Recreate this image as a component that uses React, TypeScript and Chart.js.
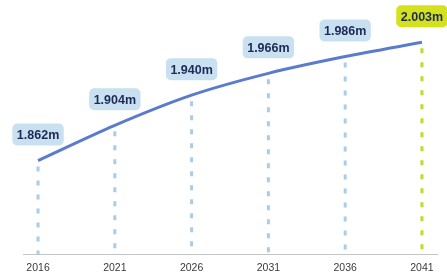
import React, { useEffect, useRef } from "react";
import { Chart, registerables } from "chart.js";

Chart.register(...registerables);

const years = [2016, 2021, 2026, 2031, 2036, 2041];
const values = [1.862, 1.904, 1.94, 1.966, 1.986, 2.003];
const labels = ["1.862m", "1.904m", "1.940m", "1.966m", "1.986m", "2.003m"];
const highlightIndex = 5;

const LINE_COLOR = "#5b7ccc";
const DROP_COLOR = "#a8cce9";
const DROP_HIGHLIGHT = "#c2d82a";
const BOX_COLOR = "#c9e0f1";
const BOX_HIGHLIGHT = "#d3e21c";
const TEXT_COLOR = "#1d2a57";

const dropAndLabels = {
  id: "dropAndLabels",
  beforeDatasetsDraw(chart: any) {
    const { ctx, scales } = chart;
    const x = scales.x;
    const y = scales.y;
    const base = y.getPixelForValue(y.min);
    ctx.save();
    ctx.lineWidth = 3;
    ctx.setLineDash([5, 9]);
    years.forEach((yr, i) => {
      const px = x.getPixelForValue(yr);
      const py = y.getPixelForValue(values[i]);
      ctx.strokeStyle = i === highlightIndex ? DROP_HIGHLIGHT : DROP_COLOR;
      ctx.beginPath();
      ctx.moveTo(px, py + 6);
      ctx.lineTo(px, base);
      ctx.stroke();
    });
    ctx.restore();
  },
  afterDatasetsDraw(chart: any) {
    const { ctx, scales } = chart;
    const x = scales.x;
    const y = scales.y;
    ctx.save();
    ctx.font = "bold 12.5px Arial, 'Liberation Sans', sans-serif";
    ctx.textAlign = "center";
    ctx.textBaseline = "middle";
    years.forEach((yr, i) => {
      const px = x.getPixelForValue(yr);
      const py = y.getPixelForValue(values[i]) - 26;
      const w = ctx.measureText(labels[i]).width + 9;
      const h = 22;
      ctx.fillStyle = i === highlightIndex ? BOX_HIGHLIGHT : BOX_COLOR;
      ctx.beginPath();
      (ctx as any).roundRect(px - w / 2, py - h / 2, w, h, 5);
      ctx.fill();
      ctx.fillStyle = TEXT_COLOR;
      ctx.fillText(labels[i], px, py + 1);
    });
    ctx.restore();
  },
};

export default function App() {
  const ref = useRef<HTMLCanvasElement>(null);
  useEffect(() => {
    if (!ref.current) return;
    const chart = new Chart(ref.current, {
      type: "line",
      data: {
        datasets: [
          {
            data: years.map((yr, i) => ({ x: yr, y: values[i] })),
            borderColor: LINE_COLOR,
            borderWidth: 3,
            pointRadius: 0,
            tension: 0.3,
            fill: false,
          },
        ],
      },
      options: {
        animation: false,
        responsive: false,
        layout: { padding: { left: 23, right: 10, top: 0, bottom: -8 } },
        plugins: { legend: { display: false }, tooltip: { enabled: false } },
        scales: {
          x: {
            type: "linear",
            min: 2015.02,
            max: 2041.98,
            afterBuildTicks: (axis: any) => {
              axis.ticks = years.map((v) => ({ value: v }));
            },
            grid: { display: false, drawTicks: false },
            border: { display: true, color: "#c4c4c4", width: 1 },
            ticks: {
              padding: 7,
              autoSkip: false,
              maxRotation: 0,
              color: "#3a3a3a",
              font: { family: "Arial, 'Liberation Sans', sans-serif", size: 10.5 },
              callback: (v: any) => String(v),
            },
          },
          y: {
            display: false,
            min: 1.75,
            max: 2.0535,
          },
        },
      },
      plugins: [dropAndLabels],
    });
    return () => chart.destroy();
  }, []);
  return (
    <div style={{ position: "absolute", left: 0, top: 0, width: 447, height: 273, background: "#fff" }}>
      <canvas ref={ref} width={447} height={273} />
    </div>
  );
}
